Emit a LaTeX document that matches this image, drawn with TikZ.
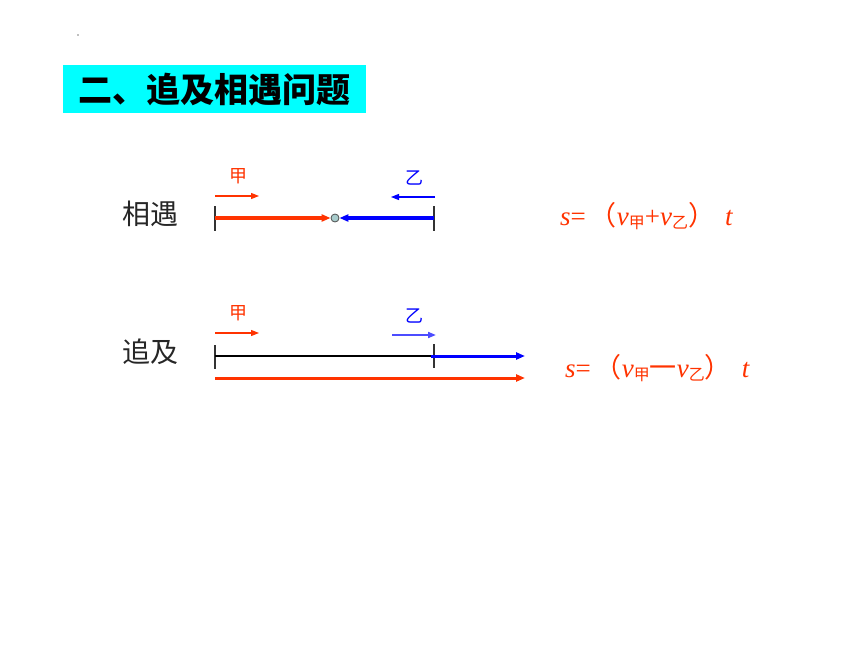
\documentclass[tikz,border=0pt]{standalone}
\usepackage{fontspec}
\setmainfont{Liberation Serif}
\newfontfamily\cjk{Noto Sans CJK SC}
\usetikzlibrary{arrows.meta}
\definecolor{myred}{HTML}{FF3300}
\definecolor{myblue}{HTML}{0000FF}
\definecolor{mycyan}{HTML}{00FFFF}
\definecolor{dotfill}{HTML}{A8CCCC}
\tikzset{
  tick/.style={line width=1.1pt, black!80},
  thickred/.style={myred, line width=3.2pt, -{Triangle[length=9pt,width=7pt]}},
  thickblue/.style={myblue, line width=3.2pt, -{Triangle[length=9pt,width=7pt]}},
  thinred/.style={myred, line width=1.2pt, -{Triangle[length=8pt,width=6pt]}},
  thinblue/.style={myblue, line width=1.2pt, -{Triangle[length=8pt,width=6pt]}},
  lab/.style={font=\cjk\fontsize{18}{18}\selectfont, inner sep=0pt},
  big/.style={font=\cjk\fontsize{28}{28}\selectfont, inner sep=0pt, black!85},
  formula/.style={font=\fontsize{27}{27}\selectfont, inner sep=0pt, myred, anchor=west}
}
\newcommand{\subz}[1]{\raisebox{-3pt}{\cjk\fontsize{16}{16}\selectfont #1}}
\begin{document}
\begin{tikzpicture}[x=1pt,y=-1pt]
\useasboundingbox (0,0) rectangle (860,645);
\fill[gray] (78,35) circle (0.9);
\node[fill=mycyan, minimum width=303pt, minimum height=48pt, inner sep=0pt, anchor=north west] (title) at (63,65) {};
\node[font=\cjk\bfseries\fontsize{34}{34}\selectfont, inner sep=0pt] (titletext) at (214,90) {二、追及相遇问题};

% meeting
\node[big] (xy) at (150,214) {相遇};
\coordinate (mA1) at (215,206); \coordinate (mA2) at (215,231);
\coordinate (mB1) at (434,206); \coordinate (mB2) at (434,231);
\draw[tick] (mA1) -- (mA2);
\draw[tick] (mB1) -- (mB2);
\coordinate (mL) at (215,218); \coordinate (mR) at (434,218);
\node[circle, draw=black!70, fill=dotfill, minimum size=8pt, inner sep=0pt, line width=0.8pt] (meet) at (335,218) {};
\draw[thickred] (mL) -- (meet.west);
\draw[thickblue] (mR) -- (meet.east);
\node[lab, myred] (jia1) at (238,176) {甲};
\node[lab, myblue] (yi1) at (414,178) {乙};
\coordinate (ja1s) at (215,196); \coordinate (ja1e) at (259,196);
\draw[thinred] (ja1s) -- (ja1e);
\coordinate (ya1s) at (435,197); \coordinate (ya1e) at (391,197);
\draw[thinblue] (ya1s) -- (ya1e);
\node[formula] (f1) at (560,216) {\textit{s}=\hspace{4pt}{\cjk （}\textit{v}\subz{甲}+\textit{v}\subz{乙}{\cjk ）}\hspace{10pt}\textit{t}};

% chase
\node[big] (zj) at (150,352) {追及};
\coordinate (cA1) at (215,345); \coordinate (cA2) at (215,369);
\coordinate (cB1) at (434,344); \coordinate (cB2) at (434,368);
\draw[tick] (cA1) -- (cA2);
\draw[tick] (cB1) -- (cB2);
\coordinate (cL) at (215,356); \coordinate (cM) at (434,356);
\coordinate (cBend) at (525,356);
\draw[black, line width=2pt] (cL) -- (cM);
\coordinate (cBs) at (431,356);
\draw[thickblue, line width=3pt] (cBs) -- (cBend);
\coordinate (cRs) at (215,378); \coordinate (cRe) at (525,378);
\draw[thickred, line width=3pt] (cRs) -- (cRe);
\node[lab, myred] (jia2) at (238,313) {甲};
\node[lab, myblue] (yi2) at (414,316) {乙};
\coordinate (ja2s) at (215,333); \coordinate (ja2e) at (259,333);
\draw[thinred] (ja2s) -- (ja2e);
\coordinate (ya2s) at (392,335); \coordinate (ya2e) at (436,335);
\draw[thinblue, line width=1.8pt, myblue!70] (ya2s) -- (ya2e);
\node[formula] (f2) at (565,368) {\textit{s}=\hspace{4pt}{\cjk （}\textit{v}\subz{甲}{\cjk 一}\textit{v}\subz{乙}{\cjk ）}\hspace{10pt}\textit{t}};
\end{tikzpicture}
\end{document}
